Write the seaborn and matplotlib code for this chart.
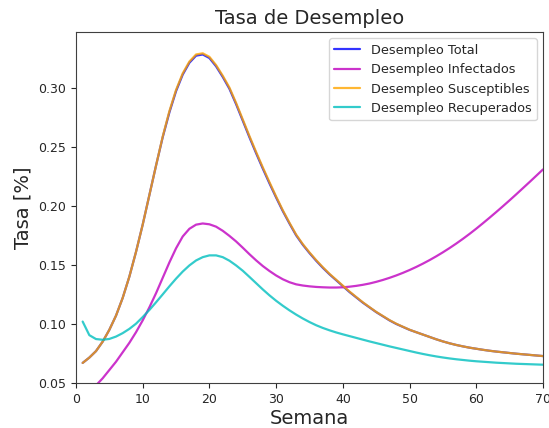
import matplotlib
matplotlib.use("Agg")
import matplotlib.pyplot as plt
import seaborn as sns
import pandas as pd

# Semanas 1..70
semanas = list(range(1, 71))

desempleo_total = [
    0.0670, 0.0715, 0.0770, 0.0850, 0.0950, 0.1070, 0.1220, 0.1400, 0.1610, 0.1840,
    0.2090, 0.2340, 0.2580, 0.2790, 0.2970, 0.3110, 0.3210, 0.3270, 0.3280, 0.3250,
    0.3180, 0.3090, 0.2990, 0.2860, 0.2720, 0.2580, 0.2445, 0.2315, 0.2190, 0.2070,
    0.1955, 0.1850, 0.1750, 0.1670, 0.1600, 0.1535, 0.1475, 0.1420, 0.1370, 0.1320,
    0.1270, 0.1225, 0.1180, 0.1140, 0.1100, 0.1065, 0.1030, 0.1000, 0.0975, 0.0950,
    0.0930, 0.0910, 0.0890, 0.0870, 0.0852, 0.0836, 0.0822, 0.0810, 0.0799, 0.0790,
    0.0781, 0.0773, 0.0766, 0.0760, 0.0754, 0.0748, 0.0743, 0.0738, 0.0733, 0.0728,
]

desempleo_infectados = [
    0.0380, 0.0430, 0.0480, 0.0540, 0.0610, 0.0680, 0.0760, 0.0840, 0.0930, 0.1030,
    0.1140, 0.1260, 0.1390, 0.1520, 0.1640, 0.1740, 0.1805, 0.1840, 0.1850, 0.1843,
    0.1823, 0.1788, 0.1745, 0.1698, 0.1645, 0.1590, 0.1538, 0.1490, 0.1448, 0.1410,
    0.1378, 0.1353, 0.1335, 0.1325, 0.1318, 0.1313, 0.1310, 0.1308, 0.1308, 0.1310,
    0.1315, 0.1322, 0.1331, 0.1342, 0.1356, 0.1372, 0.1390, 0.1410, 0.1432, 0.1456,
    0.1482, 0.1510, 0.1540, 0.1572, 0.1606, 0.1642, 0.1680, 0.1720, 0.1762, 0.1806,
    0.1852, 0.1899, 0.1947, 0.1996, 0.2046, 0.2097, 0.2149, 0.2201, 0.2254, 0.2307,
]

desempleo_susceptibles = [
    0.0670, 0.0715, 0.0770, 0.0850, 0.0950, 0.1070, 0.1220, 0.1400, 0.1610, 0.1840,
    0.2090, 0.2340, 0.2585, 0.2800, 0.2980, 0.3120, 0.3220, 0.3280, 0.3290, 0.3260,
    0.3190, 0.3100, 0.3000, 0.2870, 0.2730, 0.2590, 0.2455, 0.2325, 0.2200, 0.2078,
    0.1962, 0.1856, 0.1756, 0.1675, 0.1605, 0.1540, 0.1480, 0.1424, 0.1374, 0.1324,
    0.1274, 0.1228, 0.1183, 0.1142, 0.1102, 0.1067, 0.1032, 0.1002, 0.0976, 0.0951,
    0.0930, 0.0910, 0.0890, 0.0870, 0.0852, 0.0836, 0.0822, 0.0810, 0.0799, 0.0790,
    0.0781, 0.0773, 0.0766, 0.0760, 0.0754, 0.0748, 0.0743, 0.0738, 0.0733, 0.0728,
]

desempleo_recuperados = [
    0.1020, 0.0905, 0.0872, 0.0866, 0.0873, 0.0893, 0.0922, 0.0958, 0.1002, 0.1058,
    0.1118, 0.1183, 0.1250, 0.1318, 0.1383, 0.1443, 0.1495, 0.1537, 0.1565, 0.1580,
    0.1580, 0.1565, 0.1535, 0.1495, 0.1450, 0.1398, 0.1345, 0.1292, 0.1242, 0.1196,
    0.1154, 0.1115, 0.1079, 0.1046, 0.1016, 0.0989, 0.0966, 0.0946, 0.0928, 0.0912,
    0.0897, 0.0882, 0.0867, 0.0852, 0.0838, 0.0824, 0.0810, 0.0797, 0.0784, 0.0771,
    0.0758, 0.0746, 0.0735, 0.0725, 0.0716, 0.0708, 0.0701, 0.0695, 0.0689, 0.0684,
    0.0680, 0.0676, 0.0672, 0.0669, 0.0666, 0.0663, 0.0661, 0.0659, 0.0657, 0.0655,
]

series = {
    "Desempleo Total": desempleo_total,
    "Desempleo Infectados": desempleo_infectados,
    "Desempleo Susceptibles": desempleo_susceptibles,
    "Desempleo Recuperados": desempleo_recuperados,
}
colores = ["blue", "m", "orange", "c"]

df = pd.concat(
    [pd.DataFrame({"Semana": semanas, "Tasa": v, "Serie": k}) for k, v in series.items()],
    ignore_index=True,
)

sns.set_style("ticks")
plt.rcParams["font.family"] = ["DejaVu Sans"]

fig = plt.figure(figsize=(5.49, 4.28), dpi=100)
ax = fig.add_axes([0.1384, 0.1051, 0.8506, 0.8201])

sns.lineplot(data=df, x="Semana", y="Tasa", hue="Serie", palette=colores,
             linewidth=1.6, alpha=0.8, ax=ax)

ax.set_xlim(0, 70)
ax.set_ylim(0.05, 0.347)
ax.set_xticks(range(0, 71, 10))
ax.set_yticks([0.05, 0.10, 0.15, 0.20, 0.25, 0.30])
ax.set_yticklabels(["0.05", "0.10", "0.15", "0.20", "0.25", "0.30"])
ax.set_title("Tasa de Desempleo", fontsize=14)
ax.set_xlabel("Semana", fontsize=14, labelpad=2)
ax.set_ylabel("Tasa [%]", fontsize=14)
ax.tick_params(labelsize=9)
for s in ax.spines.values():
    s.set_color("0.25")
leg = ax.legend(loc="upper right", fontsize=9.3, frameon=True, title=None)
for line in leg.get_lines():
    line.set_linewidth(1.6)

fig.savefig("out.png", dpi=100)
